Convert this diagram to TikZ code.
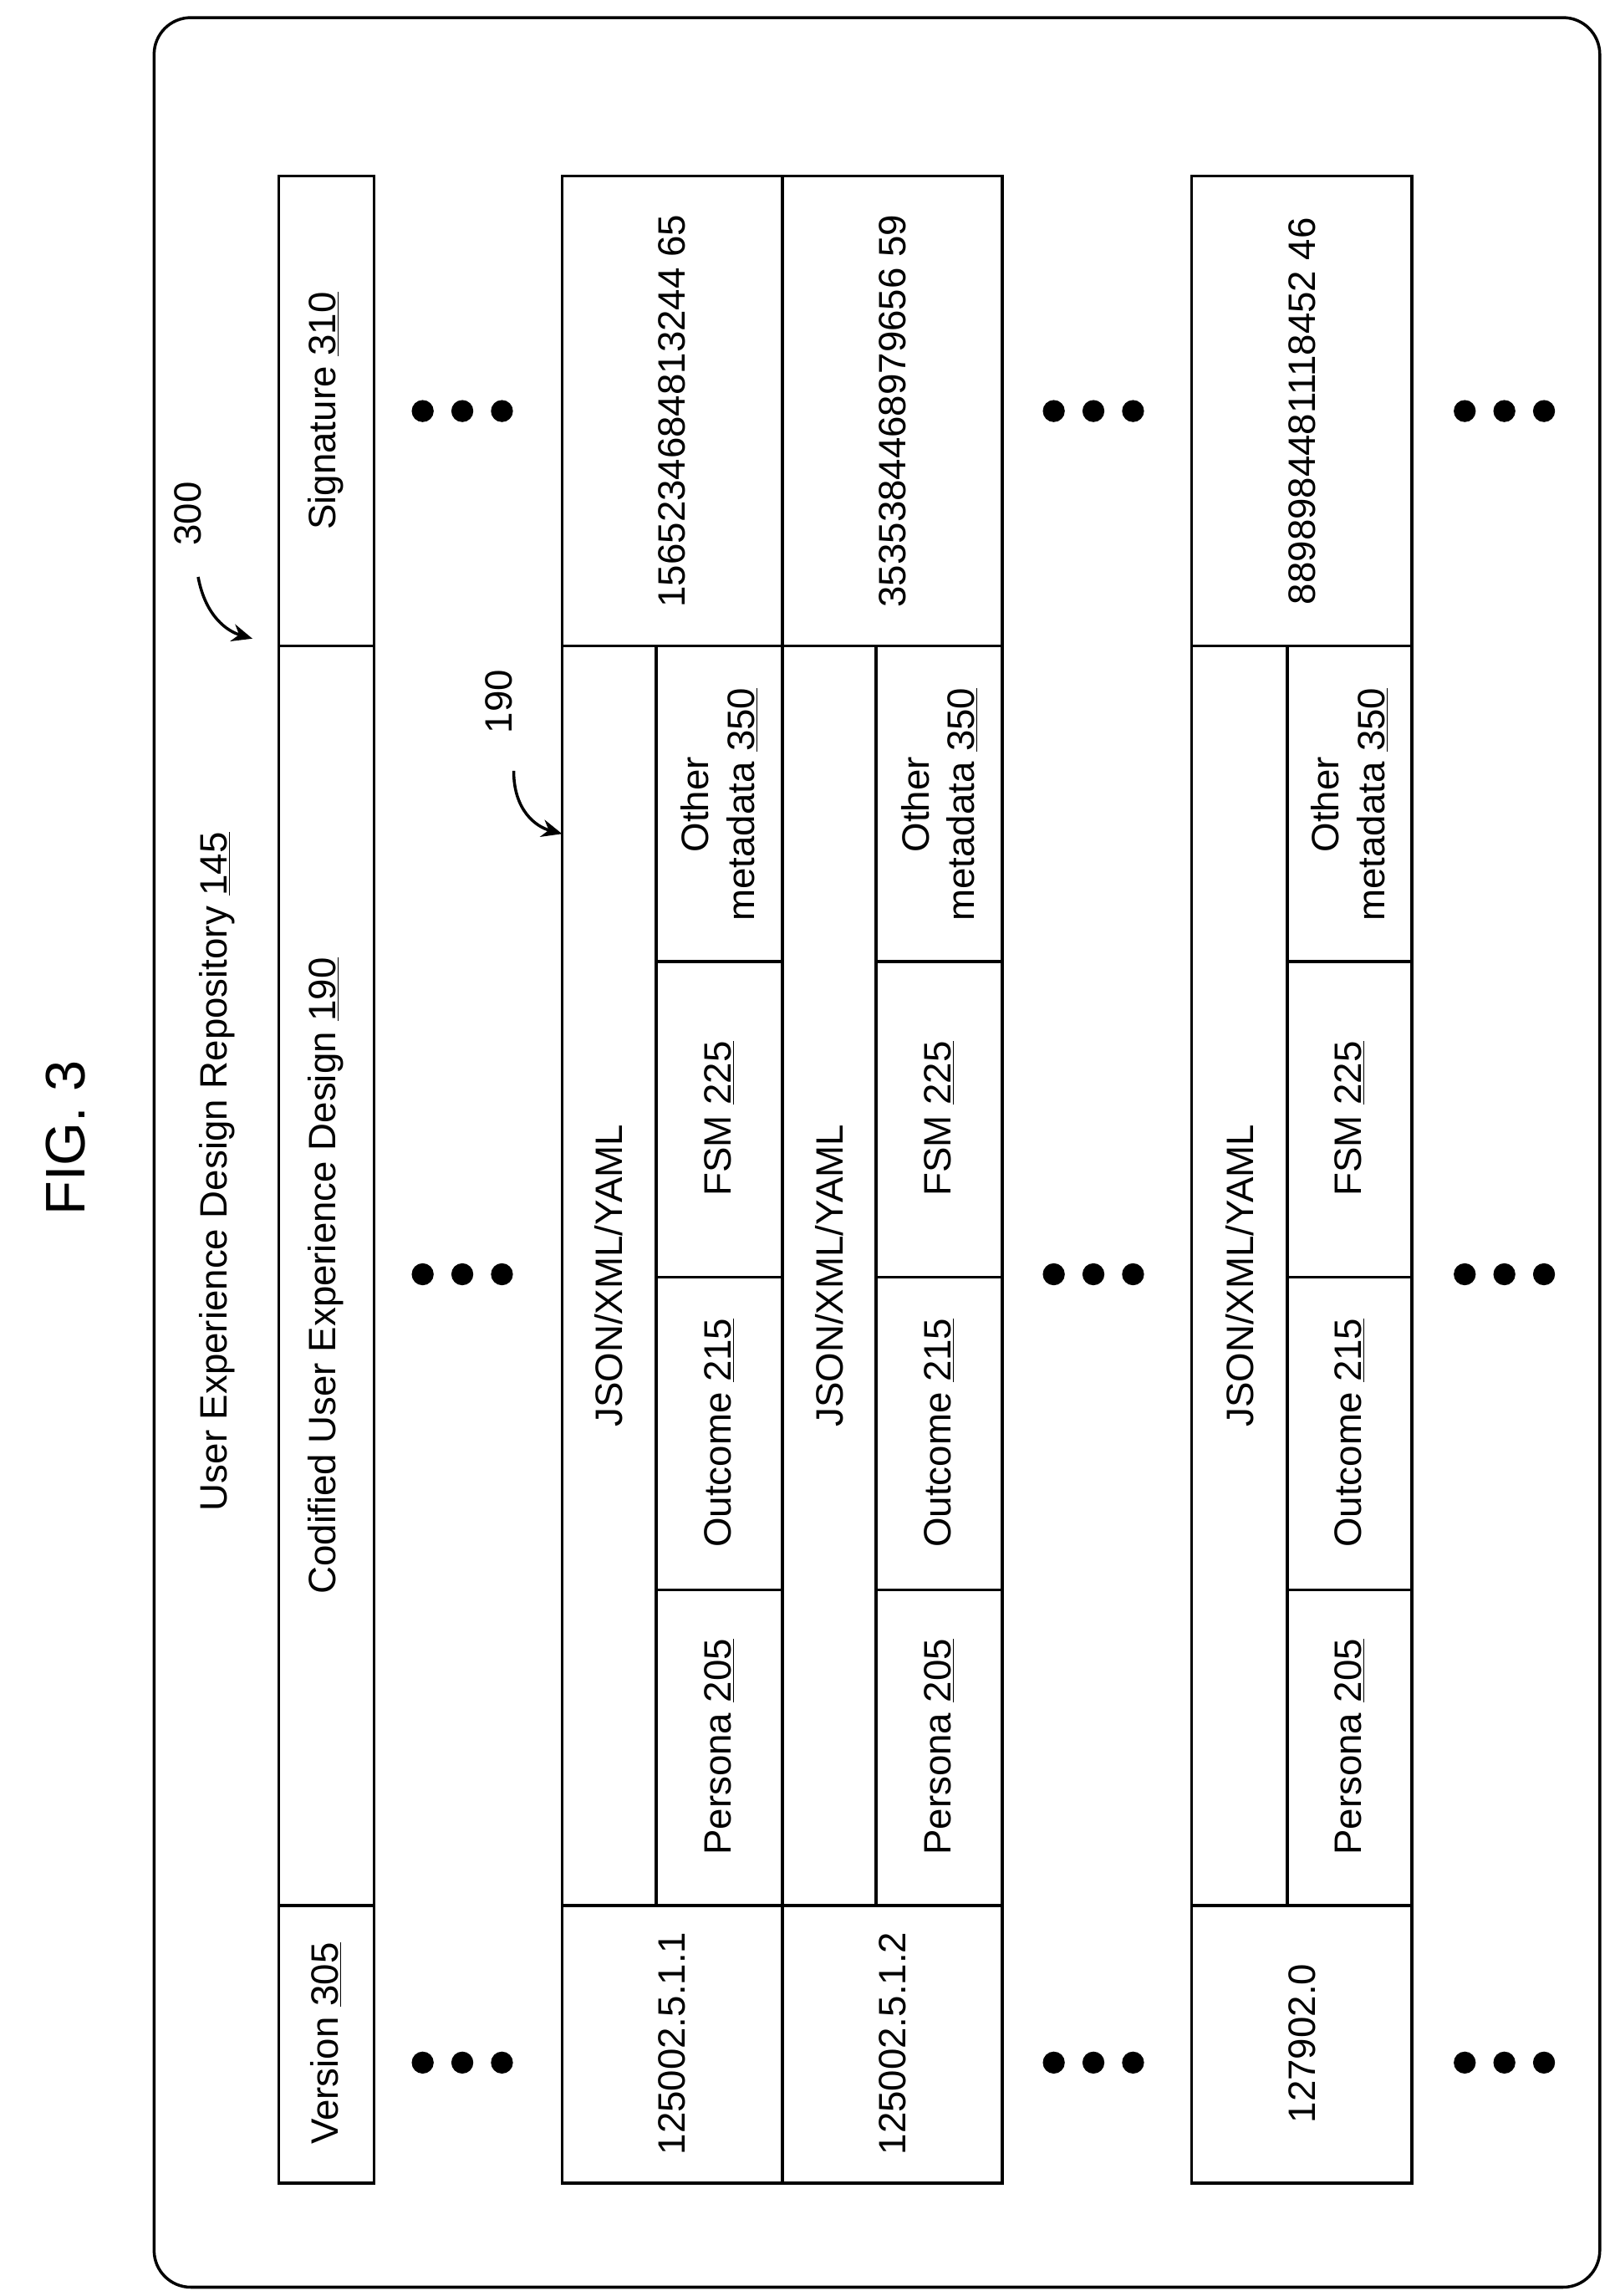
\documentclass[tikz,border=0pt]{standalone}
\usepackage{fontspec}
\setmainfont{Liberation Sans}
\usetikzlibrary{arrows.meta}
\begin{document}
\begin{tikzpicture}[x=1pt,y=-1pt,line width=2pt,
  t/.style={rotate=90,font=\fontsize{26}{31}\selectfont,align=center,inner sep=0},
  dot/.style={fill=black,circle,inner sep=0,minimum size=15pt}]
\useasboundingbox (0,0) rectangle (1100,1564);
\draw[rounded corners=25] (105,12) rectangle (1090,1558);
\node[t,font=\fontsize{38}{44}\selectfont] (fig) at (45,775) {FIG. 3};
\node[t] (repo) at (148,798) {User Experience Design Repository \underline{145}};
% header
\draw (190,120) rectangle (255,1487);
\draw (190,440) -- (255,440) (190,1298) -- (255,1298);
\node[t] (ver) at (222,1392) {Version \underline{305}};
\node[t] (cod) at (222,869) {Codified User Experience Design \underline{190}};
\node[t] (sig) at (222,280) {Signature \underline{310}};
\node[t] (l300) at (128,350) {300};
\coordinate (a300) at (172,435);
\draw[-{Stealth[length=14pt,width=12pt]}] (135,393) .. controls (140,420) and (155,430) .. (a300);
\node[t] (l190) at (340,478) {190};
\coordinate (a190) at (383,568);
\draw[-{Stealth[length=14pt,width=12pt]}] (350,525) .. controls (350,552) and (365,563) .. (a190);
% dots
\foreach \x in {315,745,1025}{
  \foreach \y in {280,868,1405}{
    \foreach \d in {-27,0,27} \node[dot] at (\x+\d,\y) {};}}
% rows
\newcommand\rowblock[5]{% x0 x1 xmid version sig
  \draw (#1,120) rectangle (#2,1487);
  \draw (#1,440) -- (#2,440) (#1,1298) -- (#2,1298);
  \draw (#3,440) -- (#3,1298);
  \foreach \yy in {655,870,1083} \draw (#3,\yy) -- (#2,\yy);
  \node[t] at ({(#1+#3)/2},869) {JSON/XML/YAML};
  \node[t] at ({(#3+#2)/2},1190) {Persona \underline{205}};
  \node[t] at ({(#3+#2)/2},976) {Outcome \underline{215}};
  \node[t] at ({(#3+#2)/2},762) {FSM \underline{225}};
  \node[t] at ({(#3+#2)/2},548) {Other\\metadata \underline{350}};
  \node[t] at ({(#1+#2)/2},1392) {#4};
  \node[t] at ({(#1+#2)/2},280) {#5};}
\rowblock{383}{533}{447}{125002.5.1.1}{1565234684813244 65}
\rowblock{533}{683}{597}{125002.5.1.2}{3535384468979656 59}
\rowblock{812}{962}{877}{127902.0}{8898984481118452 46}
\end{tikzpicture}
\end{document}
